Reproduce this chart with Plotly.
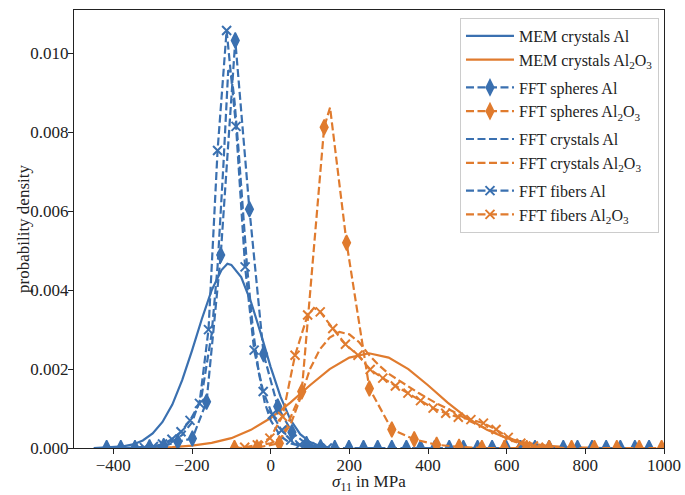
import plotly.graph_objects as go

# ---------------- data ----------------
# MEM crystals Al (solid blue)
mem_al_x = [-450, -425, -400, -375, -350, -325, -300, -275, -250, -225, -200, -175, -150,
            -125, -110, -100, -75, -50, -25, 0, 25, 50, 75, 100, 125, 150]
mem_al_y = [0.00000, 0.00001, 0.00002, 0.00004, 0.00009, 0.00019, 0.00037, 0.00066, 0.00110,
            0.00172, 0.00247, 0.00327, 0.00400, 0.00451, 0.00467, 0.00464, 0.00433, 0.00370,
            0.00290, 0.00205, 0.00130, 0.00072, 0.00035, 0.00015, 0.00005, 0.00001]

# MEM crystals Al2O3 (solid orange)
mem_ao_x = [-300, -250, -200, -150, -100, -50, 0, 50, 100, 150, 200, 250, 300, 350, 400,
            450, 500, 550, 600, 650, 700, 750, 800, 850]
mem_ao_y = [0.00001, 0.00002, 0.00006, 0.00013, 0.00025, 0.00046, 0.00076, 0.00115, 0.00159,
            0.00200, 0.00229, 0.00240, 0.00229, 0.00200, 0.00159, 0.00115, 0.00076, 0.00046,
            0.00025, 0.00013, 0.00006, 0.00002, 0.00001, 0.00000]

# FFT spheres Al (dashed blue, diamonds at every point)
sph_al_x = [-417, -381, -345, -308, -272, -236, -199, -163, -127, -90, -54, -18, 18, 54, 91,
            127, 163, 199, 236, 272, 308, 345, 381, 417, 454, 490, 526, 563, 599, 635, 672,
            708, 744, 780, 817, 853, 889, 926, 962]
sph_al_y = [0.0, 0.0, 0.0, 0.00002, 0.00005, 0.00016, 0.00024, 0.00117, 0.00489, 0.01033,
            0.00605, 0.00238, 0.00105, 0.00040, 0.00010, 0.00002, 0.0, 0.0, 0.0, 0.0, 0.0,
            0.0, 0.0, 0.0, 0.0, 0.0, 0.0, 0.0, 0.0, 0.0, 0.0, 0.0, 0.0, 0.0, 0.0, 0.0, 0.0,
            0.0, 0.0]

# FFT spheres Al2O3 (dashed orange): line points and diamond points
sph_ao_line_x = [-92, -35, 22, 79, 136, 151, 193, 251, 308, 365, 422, 479, 537, 594, 651,
                 708, 765, 823, 880, 937, 994]
sph_ao_line_y = [0.0, 0.00001, 0.00012, 0.00143, 0.00813, 0.00863, 0.00520, 0.00151, 0.00047,
                 0.00022, 0.00008, 0.00003, 0.0, 0.0, 0.0, 0.0, 0.0, 0.0, 0.0, 0.0, 0.0]
sph_ao_mark_x = [-92, -35, 22, 79, 136, 193, 251, 308, 365, 422, 479, 537, 594, 651, 708,
                 765, 823, 880, 937, 994]
sph_ao_mark_y = [0.0, 0.00001, 0.00012, 0.00143, 0.00813, 0.00520, 0.00151, 0.00047, 0.00022,
                 0.00008, 0.00003, 0.0, 0.0, 0.0, 0.0, 0.0, 0.0, 0.0, 0.0, 0.0]

# FFT crystals Al (dashed blue)
cry_al_x = [-400, -350, -300, -275, -250, -225, -200, -175, -150, -135, -120, -108, -100,
            -92, -82, -72, -60, -45, -30, -15, 0, 25, 50, 75, 100, 150]
cry_al_y = [0.0, 0.00001, 0.00004, 0.00008, 0.00016, 0.00033, 0.00065, 0.00135, 0.00290,
            0.00460, 0.00720, 0.00957, 0.00950, 0.00880, 0.00760, 0.00620, 0.00460, 0.00300,
            0.00190, 0.00115, 0.00070, 0.00030, 0.00012, 0.00005, 0.00002, 0.0]

# FFT crystals Al2O3 (dashed orange)
cry_ao_x = [-100, -50, 0, 25, 50, 75, 100, 125, 150, 175, 200, 225, 250, 275, 300, 337,
            375, 422, 465, 507, 550, 590, 620, 660, 700, 750]
cry_ao_y = [0.0, 0.00003, 0.00012, 0.00025, 0.00058, 0.00125, 0.00200, 0.00250, 0.00280,
            0.00294, 0.00288, 0.00268, 0.00236, 0.00210, 0.00188, 0.00164, 0.00140, 0.00113,
            0.00092, 0.00068, 0.00048, 0.00028, 0.00016, 0.00006, 0.00002, 0.0]

# FFT fibers Al (dashed blue, x at every point)
fib_al_x = [-321, -298, -275, -251, -228, -205, -181, -158, -135, -112, -88, -65, -42, -19,
            4, 28, 51, 74, 98, 121, 144]
fib_al_y = [0.00001, 0.00004, 0.00010, 0.00022, 0.00041, 0.00070, 0.00113, 0.00300, 0.00754,
            0.01058, 0.00815, 0.00459, 0.00248, 0.00143, 0.00085, 0.00045, 0.00020, 0.00008,
            0.00003, 0.00001, 0.0]

# FFT fibers Al2O3 (dashed orange): line points and x points
fib_ao_line_x = [-66, -34, -2, 30, 62, 94, 110, 126, 158, 190, 222, 253, 285, 317, 349, 381,
                 413, 445, 477, 509, 541, 573, 604, 636, 668, 700]
fib_ao_line_y = [0.00002, 0.00008, 0.00025, 0.00080, 0.00235, 0.00337, 0.00355, 0.00345,
                 0.00303, 0.00263, 0.00235, 0.00199, 0.00177, 0.00157, 0.00139, 0.00120,
                 0.00101, 0.00088, 0.00078, 0.00072, 0.00063, 0.00047, 0.00027, 0.00012,
                 0.00005, 0.00002]
fib_ao_mark_x = [-66, -34, -2, 30, 62, 94, 126, 158, 190, 222, 253, 285, 317, 349, 381, 413,
                 445, 477, 509, 541, 573, 604, 636, 668, 700]
fib_ao_mark_y = [0.00002, 0.00008, 0.00025, 0.00080, 0.00235, 0.00337, 0.00345, 0.00303,
                 0.00263, 0.00235, 0.00199, 0.00177, 0.00157, 0.00139, 0.00120, 0.00101,
                 0.00088, 0.00078, 0.00072, 0.00063, 0.00047, 0.00027, 0.00012, 0.00005,
                 0.00002]

x_tick_vals = [-400, -200, 0, 200, 400, 600, 800, 1000]
x_tick_text = ["\u2212400", "\u2212200", "0", "200", "400", "600", "800", "1000"]
y_tick_vals = [0.0, 0.002, 0.004, 0.006, 0.008, 0.010]
y_tick_text = ["0.000", "0.002", "0.004", "0.006", "0.008", "0.010"]

names = ["MEM crystals Al", "MEM crystals Al<sub>2</sub>O<sub>3</sub>",
         "FFT spheres Al", "FFT spheres Al<sub>2</sub>O<sub>3</sub>",
         "FFT crystals Al", "FFT crystals Al<sub>2</sub>O<sub>3</sub>",
         "FFT fibers Al", "FFT fibers Al<sub>2</sub>O<sub>3</sub>"]
x_title = "<i>σ</i><sub>11</sub> in MPa"
y_title = "probability density"

# ---------------- styling ----------------
BLUE = "#3a70b0"
ORANGE = "#e07b2e"
FONT = "Liberation Serif"
TXT = "#222222"
LW = 2.2
DASH = "8px,3.5px"
DIAMOND = dict(symbol="diamond-tall", size=11, lw=1.5)
XMARK = dict(symbol="x-thin", size=9, lw=2)

fig = go.Figure()


def add_series(name, group, color, line_x, line_y, dash=None, mark_x=None, mark_y=None,
               marker=None):
    line = dict(color=color, width=LW)
    if dash:
        line["dash"] = dash
    fig.add_trace(go.Scatter(x=line_x, y=line_y, mode="lines", line=line,
                             showlegend=False, hoverinfo="skip"))
    mk = None
    if marker is not None:
        mk = dict(symbol=marker["symbol"], size=marker["size"], color=color,
                  line=dict(color=color, width=marker["lw"]))
        fig.add_trace(go.Scatter(x=mark_x, y=mark_y, mode="markers", marker=mk,
                                 showlegend=False, hoverinfo="skip"))
    # legend entry
    fig.add_trace(go.Scatter(x=[None], y=[None], name=name, legendgroup=group,
                             mode="lines+markers" if mk else "lines",
                             line=line, marker=mk, showlegend=True))


add_series(names[0], "g1", BLUE, mem_al_x, mem_al_y)
add_series(names[1], "g1", ORANGE, mem_ao_x, mem_ao_y)
add_series(names[2], "g2", BLUE, sph_al_x, sph_al_y, DASH, sph_al_x, sph_al_y, DIAMOND)
add_series(names[3], "g2", ORANGE, sph_ao_line_x, sph_ao_line_y, DASH,
           sph_ao_mark_x, sph_ao_mark_y, DIAMOND)
add_series(names[4], "g3", BLUE, cry_al_x, cry_al_y, DASH)
add_series(names[5], "g3", ORANGE, cry_ao_x, cry_ao_y, DASH)
add_series(names[6], "g4", BLUE, fib_al_x, fib_al_y, DASH, fib_al_x, fib_al_y, XMARK)
add_series(names[7], "g4", ORANGE, fib_ao_line_x, fib_ao_line_y, DASH,
           fib_ao_mark_x, fib_ao_mark_y, XMARK)

axis_common = dict(showgrid=False, zeroline=False, showline=True, linecolor=TXT,
                   linewidth=1.2, mirror=True, ticks="outside", ticklen=5, tickwidth=1.2,
                   tickcolor=TXT, automargin=False,
                   tickfont=dict(family=FONT, size=17, color=TXT))

fig.update_layout(
    width=685, height=495,
    margin=dict(l=74, r=21, t=10, b=47, autoexpand=False),
    paper_bgcolor="white", plot_bgcolor="white",
    font=dict(family=FONT, size=17, color=TXT),
    xaxis=dict(range=[-500, 1000], tickvals=x_tick_vals, ticktext=x_tick_text,
               ticklabelstandoff=-4, **axis_common),
    yaxis=dict(range=[0, 0.0111], tickvals=y_tick_vals, ticktext=y_tick_text,
               ticklabelstandoff=-4, **axis_common),
    legend=dict(x=0.9915, y=0.982, xanchor="right", yanchor="top",
                bgcolor="rgba(255,255,255,0.85)", bordercolor="#cccccc", borderwidth=1,
                font=dict(family=FONT, size=16, color=TXT), tracegroupgap=4,
                itemwidth=48, traceorder="grouped"),
    showlegend=True,
    annotations=[
        dict(text=x_title, xref="paper", yref="paper", x=0.5, y=0, xanchor="center",
             yanchor="top", yshift=-22, showarrow=False,
             font=dict(family=FONT, size=17, color=TXT)),
        dict(text=y_title, xref="paper", yref="paper", x=0, y=0.5, xanchor="center",
             yanchor="middle", xshift=-51, textangle=-90, showarrow=False,
             font=dict(family=FONT, size=17, color=TXT)),
    ],
)

fig.write_html("out.html", config={"displayModeBar": False},
               post_script="document.body.style.margin='0';")
